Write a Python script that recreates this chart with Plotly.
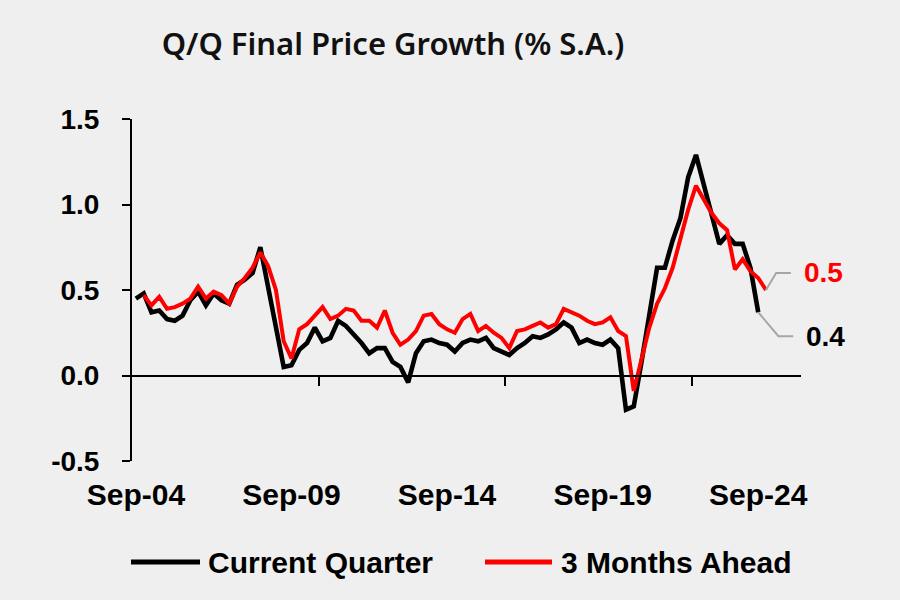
import plotly.graph_objects as go

# ---------------- data ----------------
months = ["Sep", "Dec", "Mar", "Jun"]
quarters = [f"{months[i % 4]}-{(2004 + (i + 2) // 4) % 100:02d}" for i in range(86)]

current_quarter = [
    0.45, 0.48, 0.37, 0.38, 0.33, 0.32, 0.35, 0.44, 0.49, 0.41,
    0.48, 0.44, 0.42, 0.53, 0.56, 0.60, 0.75, 0.52, 0.28, 0.05,
    0.06, 0.15, 0.19, 0.28, 0.20, 0.22, 0.32, 0.29, 0.24, 0.19,
    0.13, 0.16, 0.16, 0.08, 0.05, -0.04, 0.13, 0.20, 0.21, 0.19,
    0.18, 0.14, 0.19, 0.21, 0.20, 0.22, 0.16, 0.14, 0.12, 0.16,
    0.19, 0.23, 0.22, 0.24, 0.27, 0.31, 0.28, 0.19, 0.21, 0.19,
    0.18, 0.21, 0.16, -0.20, -0.18, 0.08, 0.36, 0.63, 0.63, 0.79,
    0.92, 1.16, 1.29, 1.12, 0.95, 0.77, 0.82, 0.77, 0.77, 0.63,
    0.37,
]
# expectation for the quarter ahead, plotted at the quarter it refers to
three_months_ahead = [
    0.47, 0.41, 0.46, 0.39, 0.40, 0.42, 0.45, 0.52, 0.45, 0.49,
    0.47, 0.42, 0.52, 0.57, 0.63, 0.72, 0.64, 0.50, 0.20, 0.10,
    0.27, 0.30, 0.35, 0.40, 0.33, 0.35, 0.39, 0.38, 0.32, 0.32,
    0.28, 0.38, 0.25, 0.18, 0.21, 0.26, 0.35, 0.36, 0.30, 0.27,
    0.25, 0.33, 0.36, 0.26, 0.29, 0.25, 0.22, 0.16, 0.26, 0.27,
    0.29, 0.31, 0.28, 0.30, 0.39, 0.37, 0.35, 0.32, 0.30, 0.31,
    0.34, 0.26, 0.23, -0.09, 0.09, 0.28, 0.42, 0.51, 0.63, 0.80,
    0.97, 1.11, 1.03, 0.95, 0.89, 0.85, 0.62, 0.68, 0.61, 0.57,
    0.50,
]
series_names = ["Current Quarter", "3 Months Ahead"]
x_labels = ["Sep-04", "Sep-09", "Sep-14", "Sep-19", "Sep-24"]
y_ticks = [-0.5, 0.0, 0.5, 1.0, 1.5]

# ---------------- styling ----------------
BG = "#efefef"
RED = "#ff0000"
BLACK = "#000000"
GREY = "#a6a6a6"
FONT = "Liberation Sans, Arial, sans-serif"
L, R, T, B = 132, 801, 119, 461          # plot area in pixels


def px_x(p):
    return (p - L) / (R - L)


def px_y(p):
    return (B - p) / (B - T)


x_black = quarters[:len(current_quarter)]
x_red = quarters[1:1 + len(three_months_ahead)]
n = len(quarters)
axis_range = [-0.5, n - 0.5]
minor_ticks = [i - 0.5 for i in range(24, n, 24)]

fig = go.Figure()
fig.add_trace(go.Scatter(x=x_black, y=current_quarter, mode="lines",
                         name=series_names[0], showlegend=False,
                         line=dict(color=BLACK, width=4.6)))
fig.add_trace(go.Scatter(x=x_red, y=three_months_ahead, mode="lines",
                         name=series_names[1], showlegend=False,
                         line=dict(color=RED, width=4)))

# leader lines to the end labels (on the linear overlay axis)
i_red = len(three_months_ahead)          # index of last red point
i_blk = len(current_quarter) - 1         # index of last black point
red_last = three_months_ahead[-1]
blk_last = current_quarter[-1]
red_lab_y = red_last + 0.10
blk_lab_y = blk_last - 0.14
fig.add_trace(go.Scatter(x=[i_red, i_red + 1.3, i_red + 3.2],
                         y=[red_last, red_lab_y, red_lab_y],
                         mode="lines", xaxis="x2", showlegend=False,
                         hoverinfo="skip", line=dict(color=GREY, width=2)))
fig.add_trace(go.Scatter(x=[i_blk, i_blk + 2.6, i_blk + 4.5],
                         y=[blk_last, blk_lab_y, blk_lab_y],
                         mode="lines", xaxis="x2", showlegend=False,
                         hoverinfo="skip", line=dict(color=GREY, width=2)))

annotations = [
    dict(x=px_x(802), y=red_lab_y, xref="paper", yref="y", text=f"{red_last:.1f}",
         showarrow=False, xanchor="left", yanchor="middle",
         font=dict(family=FONT, size=28, color=RED, weight="bold")),
    dict(x=px_x(804), y=blk_lab_y, xref="paper", yref="y", text=f"{blk_last:.1f}",
         showarrow=False, xanchor="left", yanchor="middle",
         font=dict(family=FONT, size=28, color=BLACK, weight="bold")),
]

# manual legend (long line samples like the original)
shapes = []
legend_items = [(series_names[0], BLACK, 131, 200, 206),
                (series_names[1], RED, 485, 552, 559)]
leg_y = 562
for name, col, s0, s1, tx in legend_items:
    shapes.append(dict(type="line", xref="paper", yref="paper",
                       x0=px_x(s0), x1=px_x(s1), y0=px_y(leg_y), y1=px_y(leg_y),
                       line=dict(color=col, width=5)))
    annotations.append(dict(x=px_x(tx), y=px_y(leg_y), xref="paper", yref="paper",
                            text=name, showarrow=False, xanchor="left",
                            yanchor="middle",
                            font=dict(family=FONT, size=30, color=BLACK,
                                      weight="bold")))

fig.update_layout(
    width=900, height=600,
    paper_bgcolor=BG, plot_bgcolor=BG,
    margin=dict(l=L, r=900 - R, t=T, b=600 - B, pad=0),
    showlegend=False,
    title=dict(text="Q/Q Final Price Growth (% S.A.)",
               x=393 / 900, xanchor="center", xref="container",
               y=1 - 44 / 600, yanchor="middle", yref="container",
               font=dict(family="Noto Sans, sans-serif", size=31,
                         color="#111111", weight=600)),
    xaxis=dict(type="category", categoryorder="array", categoryarray=quarters,
               range=axis_range, tickmode="array", tickvals=x_labels,
               ticktext=x_labels, showline=False, ticks="", showgrid=False,
               zeroline=False, ticklabelstandoff=13,
               tickfont=dict(family=FONT, size=30, color=BLACK, weight="bold")),
    xaxis2=dict(overlaying="x", anchor="free", position=0.25, side="bottom",
                range=axis_range, tickmode="array", tickvals=minor_ticks,
                showticklabels=False, ticks="outside", ticklen=9, tickwidth=2,
                tickcolor=BLACK, showline=True, linecolor=BLACK, linewidth=2,
                showgrid=False, zeroline=False),
    yaxis=dict(range=[-0.5, 1.5], tickmode="array", tickvals=y_ticks,
               ticktext=[f"{v:.1f}" for v in y_ticks], showline=True,
               linecolor=BLACK, linewidth=2, ticks="outside", ticklen=8,
               tickwidth=2, tickcolor=BLACK, showgrid=False, zeroline=False,
               ticklabelstandoff=17,
               tickfont=dict(family=FONT, size=28, color=BLACK, weight="bold")),
    shapes=shapes,
    annotations=annotations,
)

fig.write_html(
    "out.html",
    config={"displayModeBar": False},
    post_script="document.body.style.margin='0';"
                "document.body.style.background='#efefef';",
)
